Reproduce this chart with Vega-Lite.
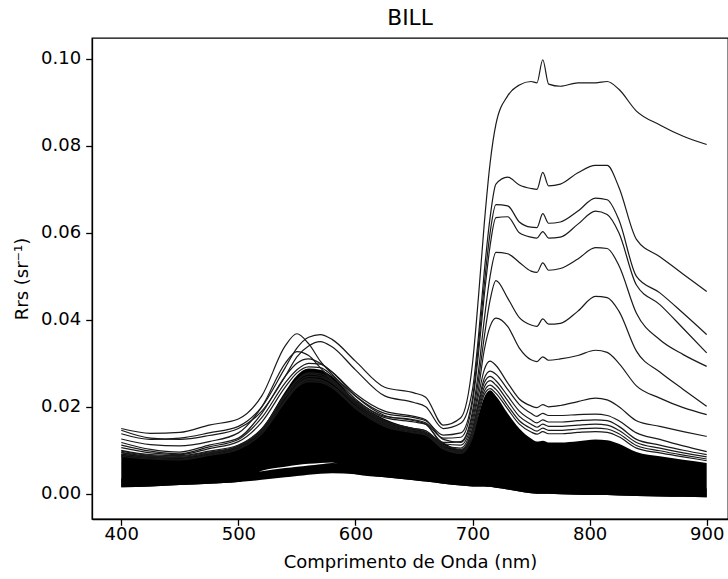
{
"$schema": "https://vega.github.io/schema/vega-lite/v6.json",
"width": 636, "height": 481,
"autosize": {"type": "none"},
"padding": {"left": 92, "top": 38, "right": 0, "bottom": 60},
"background": "white",
"title": {"text": "BILL", "font": "DejaVu Sans", "fontSize": 21.7, "fontWeight": "normal", "color": "black", "offset": 8},
"config": {
 "view": {"stroke": "black", "strokeWidth": 1.3},
 "axis": {"labelFont": "DejaVu Sans", "labelFontSize": 18, "titleFont": "DejaVu Sans", "titleFontSize": 18, "titleFontWeight": "normal", "labelColor": "black", "titleColor": "black", "tickColor": "black", "domainColor": "black", "domainWidth": 1.3, "tickWidth": 1.3, "grid": false, "tickSize": 6.3}
},
"datasets": {
"env": [
{"w":400,"lo":0.0015,"bt":0.0035,"mb":0.0015,"hi":0.0092},
{"w":425,"lo":0.0017,"bt":0.0037,"mb":0.0017,"hi":0.0088},
{"w":450,"lo":0.0020,"bt":0.0040,"mb":0.0020,"hi":0.0085},
{"w":475,"lo":0.0023,"bt":0.0043,"mb":0.0023,"hi":0.0095},
{"w":500,"lo":0.0027,"bt":0.0047,"mb":0.0027,"hi":0.0112},
{"w":520,"lo":0.0032,"bt":0.0052,"mb":0.0053,"hi":0.0150},
{"w":540,"lo":0.0038,"bt":0.0059,"mb":0.0062,"hi":0.0235},
{"w":550,"lo":0.0041,"bt":0.0062,"mb":0.0066,"hi":0.0272},
{"w":560,"lo":0.0044,"bt":0.0065,"mb":0.0069,"hi":0.0288},
{"w":570,"lo":0.0046,"bt":0.0068,"mb":0.0071,"hi":0.0285},
{"w":580,"lo":0.0047,"bt":0.0071,"mb":0.0072,"hi":0.0270},
{"w":600,"lo":0.0045,"bt":0.0065,"mb":0.0045,"hi":0.0215},
{"w":625,"lo":0.0038,"bt":0.0058,"mb":0.0038,"hi":0.0172},
{"w":650,"lo":0.0031,"bt":0.0051,"mb":0.0031,"hi":0.0150},
{"w":660,"lo":0.0028,"bt":0.0048,"mb":0.0028,"hi":0.0143},
{"w":675,"lo":0.0023,"bt":0.0043,"mb":0.0023,"hi":0.0118},
{"w":690,"lo":0.0019,"bt":0.0039,"mb":0.0019,"hi":0.0102},
{"w":700,"lo":0.0017,"bt":0.0037,"mb":0.0017,"hi":0.0135},
{"w":705,"lo":0.0017,"bt":0.0037,"mb":0.0017,"hi":0.0180},
{"w":710,"lo":0.0017,"bt":0.0037,"mb":0.0017,"hi":0.0222},
{"w":715,"lo":0.0016,"bt":0.0036,"mb":0.0016,"hi":0.0238},
{"w":720,"lo":0.0014,"bt":0.0034,"mb":0.0014,"hi":0.0225},
{"w":730,"lo":0.0010,"bt":0.0030,"mb":0.0010,"hi":0.0185},
{"w":740,"lo":0.0005,"bt":0.0025,"mb":0.0005,"hi":0.0150},
{"w":750,"lo":0.0001,"bt":0.0021,"mb":0.0001,"hi":0.0127},
{"w":755,"lo":0.0000,"bt":0.0020,"mb":0.0000,"hi":0.0120},
{"w":760,"lo":0.0000,"bt":0.0020,"mb":0.0000,"hi":0.0122},
{"w":765,"lo":0.0000,"bt":0.0020,"mb":0.0000,"hi":0.0118},
{"w":775,"lo":-0.0001,"bt":0.0019,"mb":-0.0001,"hi":0.0118},
{"w":790,"lo":-0.0002,"bt":0.0018,"mb":-0.0002,"hi":0.0121},
{"w":805,"lo":-0.0003,"bt":0.0017,"mb":-0.0003,"hi":0.0125},
{"w":815,"lo":-0.0003,"bt":0.0017,"mb":-0.0003,"hi":0.0123},
{"w":825,"lo":-0.0004,"bt":0.0016,"mb":-0.0004,"hi":0.0115},
{"w":840,"lo":-0.0005,"bt":0.0015,"mb":-0.0005,"hi":0.0096},
{"w":860,"lo":-0.0006,"bt":0.0014,"mb":-0.0006,"hi":0.0086},
{"w":880,"lo":-0.0007,"bt":0.0013,"mb":-0.0007,"hi":0.0078},
{"w":900,"lo":-0.0008,"bt":0.0012,"mb":-0.0008,"hi":0.0071}
],
"spec": [
{"s":"L1","w":400,"r":0.0138},{"s":"L1","w":425,"r":0.0125},{"s":"L1","w":450,"r":0.0128},{"s":"L1","w":475,"r":0.0140},{"s":"L1","w":500,"r":0.0155},{"s":"L1","w":520,"r":0.0200},{"s":"L1","w":540,"r":0.0290},{"s":"L1","w":550,"r":0.0335},{"s":"L1","w":560,"r":0.0360},{"s":"L1","w":570,"r":0.0366},{"s":"L1","w":580,"r":0.0355},{"s":"L1","w":600,"r":0.0305},{"s":"L1","w":625,"r":0.0245},{"s":"L1","w":650,"r":0.0232},{"s":"L1","w":660,"r":0.0222},{"s":"L1","w":675,"r":0.0158},{"s":"L1","w":690,"r":0.0175},{"s":"L1","w":700,"r":0.0300},{"s":"L1","w":705,"r":0.0450},{"s":"L1","w":710,"r":0.0620},{"s":"L1","w":715,"r":0.0760},{"s":"L1","w":720,"r":0.0850},{"s":"L1","w":730,"r":0.0915},{"s":"L1","w":740,"r":0.0940},{"s":"L1","w":750,"r":0.0948},{"s":"L1","w":755,"r":0.0945},{"s":"L1","w":760,"r":0.0998},{"s":"L1","w":765,"r":0.0942},{"s":"L1","w":775,"r":0.0937},{"s":"L1","w":790,"r":0.0945},{"s":"L1","w":805,"r":0.0945},{"s":"L1","w":815,"r":0.0948},{"s":"L1","w":825,"r":0.0930},{"s":"L1","w":840,"r":0.0880},{"s":"L1","w":860,"r":0.0848},{"s":"L1","w":880,"r":0.0822},{"s":"L1","w":900,"r":0.0803},
{"s":"L2","w":400,"r":0.0146},{"s":"L2","w":425,"r":0.0128},{"s":"L2","w":450,"r":0.0125},{"s":"L2","w":475,"r":0.0134},{"s":"L2","w":500,"r":0.0150},{"s":"L2","w":520,"r":0.0190},{"s":"L2","w":540,"r":0.0270},{"s":"L2","w":550,"r":0.0315},{"s":"L2","w":560,"r":0.0340},{"s":"L2","w":570,"r":0.0350},{"s":"L2","w":580,"r":0.0338},{"s":"L2","w":600,"r":0.0285},{"s":"L2","w":625,"r":0.0225},{"s":"L2","w":650,"r":0.0210},{"s":"L2","w":660,"r":0.0200},{"s":"L2","w":675,"r":0.0150},{"s":"L2","w":690,"r":0.0162},{"s":"L2","w":700,"r":0.0240},{"s":"L2","w":705,"r":0.0360},{"s":"L2","w":710,"r":0.0510},{"s":"L2","w":715,"r":0.0635},{"s":"L2","w":720,"r":0.0712},{"s":"L2","w":730,"r":0.0728},{"s":"L2","w":740,"r":0.0710},{"s":"L2","w":750,"r":0.0702},{"s":"L2","w":755,"r":0.0700},{"s":"L2","w":760,"r":0.0739},{"s":"L2","w":765,"r":0.0708},{"s":"L2","w":775,"r":0.0712},{"s":"L2","w":790,"r":0.0738},{"s":"L2","w":805,"r":0.0755},{"s":"L2","w":815,"r":0.0755},{"s":"L2","w":825,"r":0.0705},{"s":"L2","w":840,"r":0.0585},{"s":"L2","w":860,"r":0.0545},{"s":"L2","w":880,"r":0.0505},{"s":"L2","w":900,"r":0.0465},
{"s":"L3","w":400,"r":0.0150},{"s":"L3","w":425,"r":0.0139},{"s":"L3","w":450,"r":0.0141},{"s":"L3","w":475,"r":0.0158},{"s":"L3","w":500,"r":0.0172},{"s":"L3","w":520,"r":0.0225},{"s":"L3","w":540,"r":0.0340},{"s":"L3","w":550,"r":0.0368},{"s":"L3","w":560,"r":0.0345},{"s":"L3","w":570,"r":0.0305},{"s":"L3","w":580,"r":0.0275},{"s":"L3","w":600,"r":0.0225},{"s":"L3","w":625,"r":0.0185},{"s":"L3","w":650,"r":0.0175},{"s":"L3","w":660,"r":0.0168},{"s":"L3","w":675,"r":0.0135},{"s":"L3","w":690,"r":0.0140},{"s":"L3","w":700,"r":0.0220},{"s":"L3","w":705,"r":0.0340},{"s":"L3","w":710,"r":0.0480},{"s":"L3","w":715,"r":0.0600},{"s":"L3","w":720,"r":0.0665},{"s":"L3","w":730,"r":0.0662},{"s":"L3","w":740,"r":0.0625},{"s":"L3","w":750,"r":0.0613},{"s":"L3","w":755,"r":0.0612},{"s":"L3","w":760,"r":0.0644},{"s":"L3","w":765,"r":0.0622},{"s":"L3","w":775,"r":0.0625},{"s":"L3","w":790,"r":0.0650},{"s":"L3","w":805,"r":0.0680},{"s":"L3","w":815,"r":0.0676},{"s":"L3","w":825,"r":0.0630},{"s":"L3","w":840,"r":0.0500},{"s":"L3","w":860,"r":0.0462},{"s":"L3","w":880,"r":0.0415},{"s":"L3","w":900,"r":0.0366},
{"s":"L4","w":400,"r":0.0126},{"s":"L4","w":425,"r":0.0113},{"s":"L4","w":450,"r":0.0110},{"s":"L4","w":475,"r":0.0120},{"s":"L4","w":500,"r":0.0140},{"s":"L4","w":520,"r":0.0200},{"s":"L4","w":540,"r":0.0300},{"s":"L4","w":550,"r":0.0327},{"s":"L4","w":560,"r":0.0318},{"s":"L4","w":570,"r":0.0290},{"s":"L4","w":580,"r":0.0262},{"s":"L4","w":600,"r":0.0215},{"s":"L4","w":625,"r":0.0178},{"s":"L4","w":650,"r":0.0170},{"s":"L4","w":660,"r":0.0163},{"s":"L4","w":675,"r":0.0128},{"s":"L4","w":690,"r":0.0130},{"s":"L4","w":700,"r":0.0210},{"s":"L4","w":705,"r":0.0320},{"s":"L4","w":710,"r":0.0455},{"s":"L4","w":715,"r":0.0570},{"s":"L4","w":720,"r":0.0635},{"s":"L4","w":730,"r":0.0637},{"s":"L4","w":740,"r":0.0600},{"s":"L4","w":750,"r":0.0590},{"s":"L4","w":755,"r":0.0588},{"s":"L4","w":760,"r":0.0603},{"s":"L4","w":765,"r":0.0588},{"s":"L4","w":775,"r":0.0590},{"s":"L4","w":790,"r":0.0620},{"s":"L4","w":805,"r":0.0650},{"s":"L4","w":815,"r":0.0642},{"s":"L4","w":825,"r":0.0600},{"s":"L4","w":840,"r":0.0480},{"s":"L4","w":860,"r":0.0435},{"s":"L4","w":880,"r":0.0380},{"s":"L4","w":900,"r":0.0324},
{"s":"L5","w":400,"r":0.0118},{"s":"L5","w":425,"r":0.0102},{"s":"L5","w":450,"r":0.0096},{"s":"L5","w":475,"r":0.0112},{"s":"L5","w":500,"r":0.0128},{"s":"L5","w":520,"r":0.0185},{"s":"L5","w":540,"r":0.0270},{"s":"L5","w":550,"r":0.0300},{"s":"L5","w":560,"r":0.0310},{"s":"L5","w":570,"r":0.0300},{"s":"L5","w":580,"r":0.0280},{"s":"L5","w":600,"r":0.0225},{"s":"L5","w":625,"r":0.0180},{"s":"L5","w":650,"r":0.0168},{"s":"L5","w":660,"r":0.0160},{"s":"L5","w":675,"r":0.0118},{"s":"L5","w":690,"r":0.0120},{"s":"L5","w":700,"r":0.0190},{"s":"L5","w":705,"r":0.0280},{"s":"L5","w":710,"r":0.0400},{"s":"L5","w":715,"r":0.0500},{"s":"L5","w":720,"r":0.0555},{"s":"L5","w":730,"r":0.0552},{"s":"L5","w":740,"r":0.0532},{"s":"L5","w":750,"r":0.0512},{"s":"L5","w":755,"r":0.0509},{"s":"L5","w":760,"r":0.0531},{"s":"L5","w":765,"r":0.0514},{"s":"L5","w":775,"r":0.0518},{"s":"L5","w":790,"r":0.0540},{"s":"L5","w":805,"r":0.0566},{"s":"L5","w":815,"r":0.0564},{"s":"L5","w":825,"r":0.0525},{"s":"L5","w":840,"r":0.0415},{"s":"L5","w":860,"r":0.0354},{"s":"L5","w":880,"r":0.0320},{"s":"L5","w":900,"r":0.0293},
{"s":"L6","w":400,"r":0.0112},{"s":"L6","w":425,"r":0.0098},{"s":"L6","w":450,"r":0.0092},{"s":"L6","w":475,"r":0.0108},{"s":"L6","w":500,"r":0.0125},{"s":"L6","w":520,"r":0.0175},{"s":"L6","w":540,"r":0.0255},{"s":"L6","w":550,"r":0.0285},{"s":"L6","w":560,"r":0.0300},{"s":"L6","w":570,"r":0.0298},{"s":"L6","w":580,"r":0.0280},{"s":"L6","w":600,"r":0.0230},{"s":"L6","w":625,"r":0.0190},{"s":"L6","w":650,"r":0.0178},{"s":"L6","w":660,"r":0.0170},{"s":"L6","w":675,"r":0.0125},{"s":"L6","w":690,"r":0.0118},{"s":"L6","w":700,"r":0.0180},{"s":"L6","w":705,"r":0.0260},{"s":"L6","w":710,"r":0.0360},{"s":"L6","w":715,"r":0.0445},{"s":"L6","w":720,"r":0.0490},{"s":"L6","w":730,"r":0.0450},{"s":"L6","w":740,"r":0.0405},{"s":"L6","w":750,"r":0.0388},{"s":"L6","w":755,"r":0.0385},{"s":"L6","w":760,"r":0.0402},{"s":"L6","w":765,"r":0.0390},{"s":"L6","w":775,"r":0.0392},{"s":"L6","w":790,"r":0.0420},{"s":"L6","w":805,"r":0.0454},{"s":"L6","w":815,"r":0.0451},{"s":"L6","w":825,"r":0.0420},{"s":"L6","w":840,"r":0.0328},{"s":"L6","w":860,"r":0.0280},{"s":"L6","w":880,"r":0.0240},{"s":"L6","w":900,"r":0.0201},
{"s":"L7","w":400,"r":0.0106},{"s":"L7","w":425,"r":0.0094},{"s":"L7","w":450,"r":0.0090},{"s":"L7","w":475,"r":0.0104},{"s":"L7","w":500,"r":0.0120},{"s":"L7","w":520,"r":0.0165},{"s":"L7","w":540,"r":0.0245},{"s":"L7","w":550,"r":0.0278},{"s":"L7","w":560,"r":0.0292},{"s":"L7","w":570,"r":0.0290},{"s":"L7","w":580,"r":0.0272},{"s":"L7","w":600,"r":0.0218},{"s":"L7","w":625,"r":0.0175},{"s":"L7","w":650,"r":0.0165},{"s":"L7","w":660,"r":0.0160},{"s":"L7","w":675,"r":0.0115},{"s":"L7","w":690,"r":0.0112},{"s":"L7","w":700,"r":0.0170},{"s":"L7","w":705,"r":0.0240},{"s":"L7","w":710,"r":0.0330},{"s":"L7","w":715,"r":0.0385},{"s":"L7","w":720,"r":0.0404},{"s":"L7","w":730,"r":0.0385},{"s":"L7","w":740,"r":0.0335},{"s":"L7","w":750,"r":0.0308},{"s":"L7","w":755,"r":0.0304},{"s":"L7","w":760,"r":0.0315},{"s":"L7","w":765,"r":0.0307},{"s":"L7","w":775,"r":0.0310},{"s":"L7","w":790,"r":0.0318},{"s":"L7","w":805,"r":0.0330},{"s":"L7","w":815,"r":0.0325},{"s":"L7","w":825,"r":0.0300},{"s":"L7","w":840,"r":0.0248},{"s":"L7","w":860,"r":0.0220},{"s":"L7","w":880,"r":0.0198},{"s":"L7","w":900,"r":0.0182},
{"s":"M1","w":400,"r":0.0100},{"s":"M1","w":425,"r":0.0090},{"s":"M1","w":450,"r":0.0088},{"s":"M1","w":475,"r":0.0098},{"s":"M1","w":500,"r":0.0112},{"s":"M1","w":520,"r":0.0150},{"s":"M1","w":540,"r":0.0225},{"s":"M1","w":550,"r":0.0260},{"s":"M1","w":560,"r":0.0275},{"s":"M1","w":570,"r":0.0272},{"s":"M1","w":580,"r":0.0258},{"s":"M1","w":600,"r":0.0210},{"s":"M1","w":625,"r":0.0165},{"s":"M1","w":650,"r":0.0150},{"s":"M1","w":660,"r":0.0145},{"s":"M1","w":675,"r":0.0110},{"s":"M1","w":690,"r":0.0105},{"s":"M1","w":700,"r":0.0160},{"s":"M1","w":705,"r":0.0225},{"s":"M1","w":710,"r":0.0285},{"s":"M1","w":715,"r":0.0305},{"s":"M1","w":720,"r":0.0295},{"s":"M1","w":730,"r":0.0255},{"s":"M1","w":740,"r":0.0218},{"s":"M1","w":750,"r":0.0202},{"s":"M1","w":755,"r":0.0198},{"s":"M1","w":760,"r":0.0205},{"s":"M1","w":765,"r":0.0200},{"s":"M1","w":775,"r":0.0203},{"s":"M1","w":790,"r":0.0212},{"s":"M1","w":805,"r":0.0220},{"s":"M1","w":815,"r":0.0216},{"s":"M1","w":825,"r":0.0200},{"s":"M1","w":840,"r":0.0168},{"s":"M1","w":860,"r":0.0155},{"s":"M1","w":880,"r":0.0143},{"s":"M1","w":900,"r":0.0132},
{"s":"M2","w":400,"r":0.0095},{"s":"M2","w":425,"r":0.0086},{"s":"M2","w":450,"r":0.0084},{"s":"M2","w":475,"r":0.0094},{"s":"M2","w":500,"r":0.0108},{"s":"M2","w":520,"r":0.0145},{"s":"M2","w":540,"r":0.0215},{"s":"M2","w":550,"r":0.0250},{"s":"M2","w":560,"r":0.0265},{"s":"M2","w":570,"r":0.0262},{"s":"M2","w":580,"r":0.0248},{"s":"M2","w":600,"r":0.0200},{"s":"M2","w":625,"r":0.0160},{"s":"M2","w":650,"r":0.0145},{"s":"M2","w":660,"r":0.0140},{"s":"M2","w":675,"r":0.0105},{"s":"M2","w":690,"r":0.0098},{"s":"M2","w":700,"r":0.0150},{"s":"M2","w":705,"r":0.0210},{"s":"M2","w":710,"r":0.0265},{"s":"M2","w":715,"r":0.0282},{"s":"M2","w":720,"r":0.0275},{"s":"M2","w":730,"r":0.0240},{"s":"M2","w":740,"r":0.0205},{"s":"M2","w":750,"r":0.0185},{"s":"M2","w":755,"r":0.0178},{"s":"M2","w":760,"r":0.0185},{"s":"M2","w":765,"r":0.0180},{"s":"M2","w":775,"r":0.0180},{"s":"M2","w":790,"r":0.0182},{"s":"M2","w":805,"r":0.0183},{"s":"M2","w":815,"r":0.0180},{"s":"M2","w":825,"r":0.0168},{"s":"M2","w":840,"r":0.0140},{"s":"M2","w":860,"r":0.0125},{"s":"M2","w":880,"r":0.0110},{"s":"M2","w":900,"r":0.0097},
{"s":"F1","w":400,"r":0.0098},{"s":"F1","w":425,"r":0.0088},{"s":"F1","w":450,"r":0.0086},{"s":"F1","w":475,"r":0.0096},{"s":"F1","w":500,"r":0.0110},{"s":"F1","w":520,"r":0.0148},{"s":"F1","w":540,"r":0.0228},{"s":"F1","w":550,"r":0.0262},{"s":"F1","w":560,"r":0.0278},{"s":"F1","w":570,"r":0.0276},{"s":"F1","w":580,"r":0.0262},{"s":"F1","w":600,"r":0.0212},{"s":"F1","w":625,"r":0.0168},{"s":"F1","w":650,"r":0.0150},{"s":"F1","w":660,"r":0.0145},{"s":"F1","w":675,"r":0.0112},{"s":"F1","w":690,"r":0.0102},{"s":"F1","w":700,"r":0.0148},{"s":"F1","w":705,"r":0.0205},{"s":"F1","w":710,"r":0.0255},{"s":"F1","w":715,"r":0.0270},{"s":"F1","w":720,"r":0.0260},{"s":"F1","w":730,"r":0.0225},{"s":"F1","w":740,"r":0.0190},{"s":"F1","w":750,"r":0.0170},{"s":"F1","w":755,"r":0.0163},{"s":"F1","w":760,"r":0.0170},{"s":"F1","w":765,"r":0.0165},{"s":"F1","w":775,"r":0.0165},{"s":"F1","w":790,"r":0.0168},{"s":"F1","w":805,"r":0.0170},{"s":"F1","w":815,"r":0.0168},{"s":"F1","w":825,"r":0.0155},{"s":"F1","w":840,"r":0.0125},{"s":"F1","w":860,"r":0.0112},{"s":"F1","w":880,"r":0.0100},{"s":"F1","w":900,"r":0.0090},
{"s":"F2","w":400,"r":0.0094},{"s":"F2","w":425,"r":0.0085},{"s":"F2","w":450,"r":0.0083},{"s":"F2","w":475,"r":0.0093},{"s":"F2","w":500,"r":0.0107},{"s":"F2","w":520,"r":0.0145},{"s":"F2","w":540,"r":0.0222},{"s":"F2","w":550,"r":0.0255},{"s":"F2","w":560,"r":0.0270},{"s":"F2","w":570,"r":0.0268},{"s":"F2","w":580,"r":0.0255},{"s":"F2","w":600,"r":0.0206},{"s":"F2","w":625,"r":0.0163},{"s":"F2","w":650,"r":0.0146},{"s":"F2","w":660,"r":0.0141},{"s":"F2","w":675,"r":0.0108},{"s":"F2","w":690,"r":0.0098},{"s":"F2","w":700,"r":0.0142},{"s":"F2","w":705,"r":0.0198},{"s":"F2","w":710,"r":0.0245},{"s":"F2","w":715,"r":0.0260},{"s":"F2","w":720,"r":0.0250},{"s":"F2","w":730,"r":0.0214},{"s":"F2","w":740,"r":0.0178},{"s":"F2","w":750,"r":0.0160},{"s":"F2","w":755,"r":0.0153},{"s":"F2","w":760,"r":0.0160},{"s":"F2","w":765,"r":0.0155},{"s":"F2","w":775,"r":0.0155},{"s":"F2","w":790,"r":0.0158},{"s":"F2","w":805,"r":0.0160},{"s":"F2","w":815,"r":0.0158},{"s":"F2","w":825,"r":0.0146},{"s":"F2","w":840,"r":0.0118},{"s":"F2","w":860,"r":0.0105},{"s":"F2","w":880,"r":0.0094},{"s":"F2","w":900,"r":0.0085},
{"s":"F3","w":400,"r":0.0090},{"s":"F3","w":425,"r":0.0082},{"s":"F3","w":450,"r":0.0080},{"s":"F3","w":475,"r":0.0090},{"s":"F3","w":500,"r":0.0104},{"s":"F3","w":520,"r":0.0140},{"s":"F3","w":540,"r":0.0215},{"s":"F3","w":550,"r":0.0248},{"s":"F3","w":560,"r":0.0262},{"s":"F3","w":570,"r":0.0260},{"s":"F3","w":580,"r":0.0248},{"s":"F3","w":600,"r":0.0200},{"s":"F3","w":625,"r":0.0158},{"s":"F3","w":650,"r":0.0142},{"s":"F3","w":660,"r":0.0137},{"s":"F3","w":675,"r":0.0105},{"s":"F3","w":690,"r":0.0095},{"s":"F3","w":700,"r":0.0136},{"s":"F3","w":705,"r":0.0190},{"s":"F3","w":710,"r":0.0236},{"s":"F3","w":715,"r":0.0250},{"s":"F3","w":720,"r":0.0240},{"s":"F3","w":730,"r":0.0203},{"s":"F3","w":740,"r":0.0168},{"s":"F3","w":750,"r":0.0150},{"s":"F3","w":755,"r":0.0144},{"s":"F3","w":760,"r":0.0151},{"s":"F3","w":765,"r":0.0146},{"s":"F3","w":775,"r":0.0146},{"s":"F3","w":790,"r":0.0149},{"s":"F3","w":805,"r":0.0151},{"s":"F3","w":815,"r":0.0149},{"s":"F3","w":825,"r":0.0138},{"s":"F3","w":840,"r":0.0111},{"s":"F3","w":860,"r":0.0099},{"s":"F3","w":880,"r":0.0089},{"s":"F3","w":900,"r":0.0080},
{"s":"F4","w":400,"r":0.0086},{"s":"F4","w":425,"r":0.0080},{"s":"F4","w":450,"r":0.0078},{"s":"F4","w":475,"r":0.0088},{"s":"F4","w":500,"r":0.0102},{"s":"F4","w":520,"r":0.0138},{"s":"F4","w":540,"r":0.0212},{"s":"F4","w":550,"r":0.0245},{"s":"F4","w":560,"r":0.0258},{"s":"F4","w":570,"r":0.0256},{"s":"F4","w":580,"r":0.0244},{"s":"F4","w":600,"r":0.0196},{"s":"F4","w":625,"r":0.0155},{"s":"F4","w":650,"r":0.0140},{"s":"F4","w":660,"r":0.0135},{"s":"F4","w":675,"r":0.0103},{"s":"F4","w":690,"r":0.0093},{"s":"F4","w":700,"r":0.0130},{"s":"F4","w":705,"r":0.0182},{"s":"F4","w":710,"r":0.0228},{"s":"F4","w":715,"r":0.0242},{"s":"F4","w":720,"r":0.0231},{"s":"F4","w":730,"r":0.0195},{"s":"F4","w":740,"r":0.0160},{"s":"F4","w":750,"r":0.0142},{"s":"F4","w":755,"r":0.0137},{"s":"F4","w":760,"r":0.0143},{"s":"F4","w":765,"r":0.0138},{"s":"F4","w":775,"r":0.0138},{"s":"F4","w":790,"r":0.0141},{"s":"F4","w":805,"r":0.0143},{"s":"F4","w":815,"r":0.0141},{"s":"F4","w":825,"r":0.0131},{"s":"F4","w":840,"r":0.0105},{"s":"F4","w":860,"r":0.0094},{"s":"F4","w":880,"r":0.0085},{"s":"F4","w":900,"r":0.0076}
]
},
"encoding": {
 "x": {"field": "w", "type": "quantitative", "title": "Comprimento de Onda (nm)",
  "scale": {"domain": [375, 918.2], "nice": false, "zero": false},
  "axis": {"values": [400, 500, 600, 700, 800, 900], "format": "d", "labelPadding": 0, "titlePadding": 10}}
},
"layer": [
 {"data": {"name": "env"},
  "mark": {"type": "area", "color": "black", "interpolate": "monotone", "clip": true},
  "encoding": {
   "y": {"field": "mb", "type": "quantitative", "title": "Rrs (sr⁻¹)",
    "scale": {"domain": [-0.0058, 0.1048], "nice": false, "zero": false},
    "axis": {"values": [0, 0.02, 0.04, 0.06, 0.08, 0.1], "format": ".2f", "labelPadding": 5, "titlePadding": 9}},
   "y2": {"field": "hi"}}},
 {"data": {"name": "env"},
  "mark": {"type": "area", "color": "black", "interpolate": "monotone", "clip": true},
  "encoding": {
   "y": {"field": "lo", "type": "quantitative", "title": "Rrs (sr⁻¹)"},
   "y2": {"field": "bt"}}},
 {"data": {"name": "spec"},
  "mark": {"type": "line", "color": "#1a1a1a", "strokeWidth": 1.2, "interpolate": "monotone", "clip": true},
  "encoding": {
   "y": {"field": "r", "type": "quantitative", "title": "Rrs (sr⁻¹)"},
   "detail": {"field": "s"}}}
]
}
